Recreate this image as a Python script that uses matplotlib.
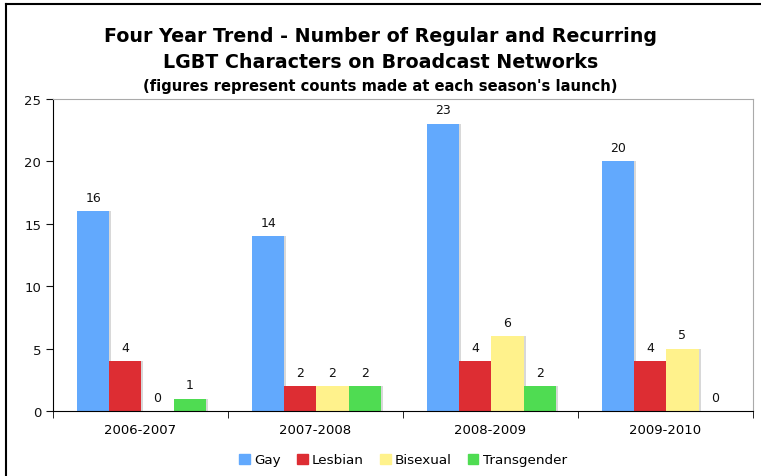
import numpy as np
import matplotlib.pyplot as plt
from matplotlib.lines import Line2D
from matplotlib.patches import Rectangle

seasons = ["2006-2007", "2007-2008", "2008-2009", "2009-2010"]
gay = [16, 14, 23, 20]
lesbian = [4, 2, 4, 4]
bisexual = [0, 2, 6, 5]
transgender = [1, 2, 2, 0]

series = [("Gay", gay, "#62a9fd"),
          ("Lesbian", lesbian, "#dd2d33"),
          ("Bisexual", bisexual, "#fff28c"),
          ("Transgender", transgender, "#4fdc52")]

fig = plt.figure(figsize=(7.61, 4.77), dpi=100)
ax = fig.add_axes([53 / 761, 1 - 412 / 477, 700 / 761, 312 / 477])

# frame around the whole picture (left and top only, as in the original)
fig.add_artist(Line2D([6 / 761, 6 / 761], [0, 1 - 5 / 477], transform=fig.transFigure, color="black", lw=1.5))
fig.add_artist(Line2D([6 / 761, 1], [1 - 5 / 477, 1 - 5 / 477], transform=fig.transFigure, color="black", lw=1.5))

x = np.arange(len(seasons))
w = 0.184
offsets = (np.arange(4) - 1.5) * w + 0.005

for i, (name, vals, col) in enumerate(series):
    pos = x + offsets[i]
    # soft shadow on the right side
    ax.bar(pos + 0.012, vals, w, color="#c8c8c8", zorder=1, alpha=0.7)
    ax.bar(pos, vals, w, color=col, label=name, zorder=2)
    for p, v in zip(pos, vals):
        ax.text(p, v + 0.6, str(v), ha="center", va="bottom", fontsize=9, color="#111111")

ax.set_xlim(-0.5, len(seasons) - 0.5)
ax.set_ylim(0, 25)
ax.set_yticks([0, 5, 10, 15, 20, 25])
ax.tick_params(axis="y", direction="out", length=5, labelsize=9.5, colors="#111111")
ax.set_xticks(x)
ax.set_xticklabels(seasons, fontsize=9.5)
ax.tick_params(axis="x", length=0, pad=9)
ax.set_xticks(np.arange(len(seasons) + 1) - 0.5, minor=True)
ax.tick_params(axis="x", which="minor", direction="out", length=5)

for s in ["top", "right"]:
    ax.spines[s].set_color("#aaaaaa")
for s in ["left", "bottom"]:
    ax.spines[s].set_color("black")

fig.text(0.5, 1 - 37 / 477, "Four Year Trend - Number of Regular and Recurring",
         ha="center", va="center", fontsize=13.7, fontweight="bold")
fig.text(0.5, 1 - 62 / 477, "LGBT Characters on Broadcast Networks",
         ha="center", va="center", fontsize=13.7, fontweight="bold")
fig.text(0.5, 1 - 86 / 477, "(figures represent counts made at each season's launch)",
         ha="center", va="center", fontsize=10.6, fontweight="bold")

handles = [Rectangle((0, 0), 1, 1, color=c) for _, _, c in series]
fig.legend(handles, [n for n, _, _ in series], loc="center", bbox_to_anchor=(403 / 761, 1 - 461 / 477),
           ncol=4, frameon=False, fontsize=9.7, handlelength=0.8, handleheight=0.8,
           handletextpad=0.3, columnspacing=1.2)

fig.savefig("out.png", dpi=100)
